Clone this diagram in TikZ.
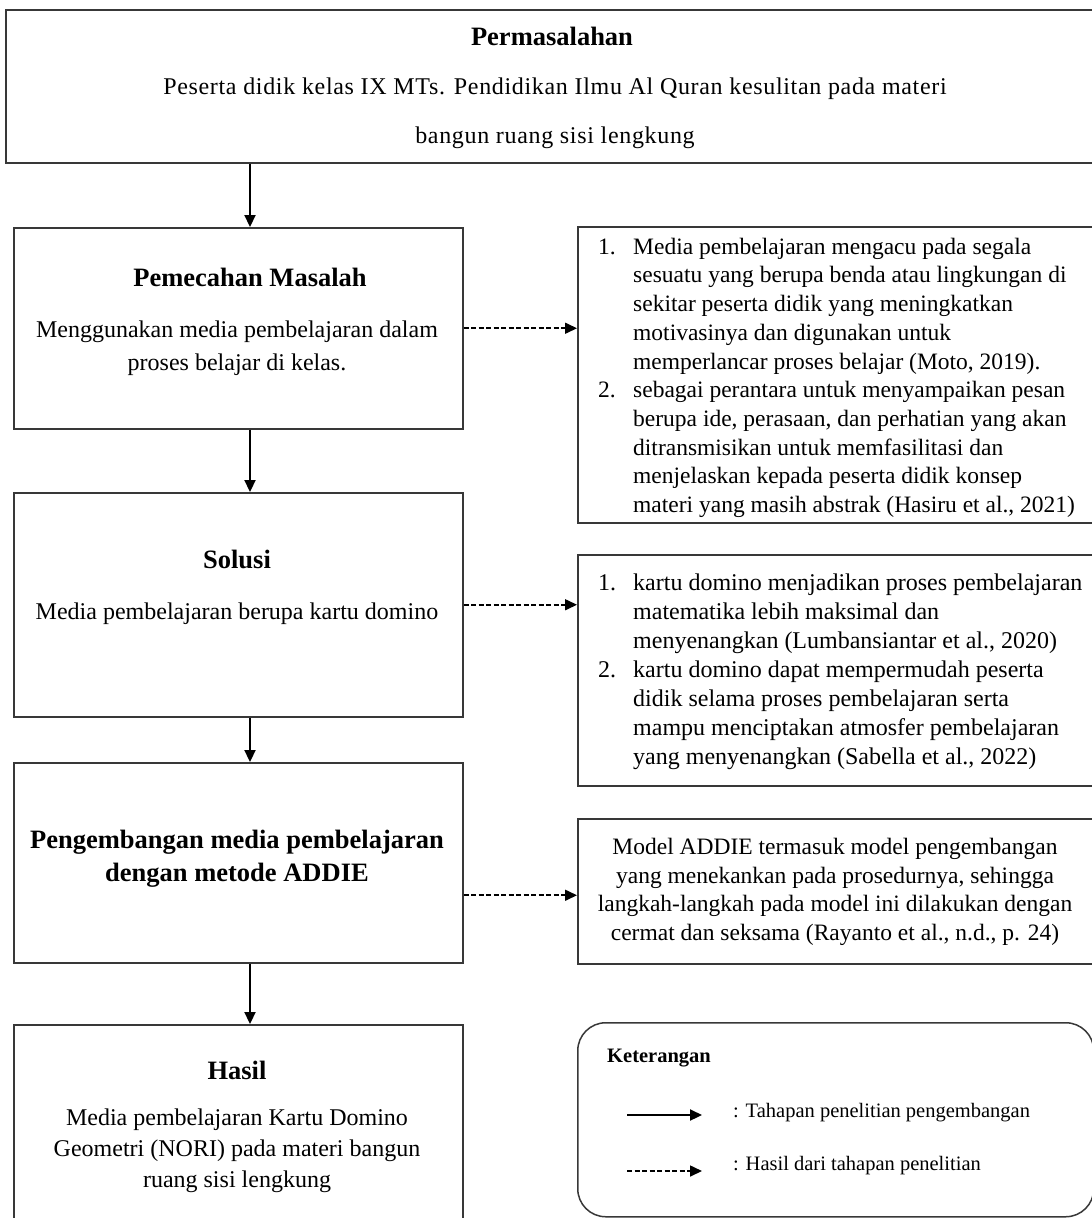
\documentclass[tikz,border=0pt]{standalone}
\usepackage{fontspec}
\setmainfont{Liberation Serif}
\usetikzlibrary{arrows.meta}

\begin{document}
\begin{tikzpicture}[x=1pt,y=-1pt,
  box/.style={draw=black!78, line width=1.5pt, rectangle, anchor=north west, inner sep=0pt},
  flow/.style={line width=2.2pt, -{Triangle[length=12pt,width=11pt]}},
  result/.style={line width=1.6pt, dash pattern=on 5pt off 2.5pt, -{Triangle[length=12pt,width=11pt]}},
  body/.style={font=\fontsize{24}{29}\selectfont, inner sep=0pt},
  head/.style={font=\fontsize{26.5}{33}\selectfont\bfseries, inner sep=0pt, anchor=base},
  line/.style={body, anchor=base},
  wide/.style={font=\fontsize{24}{29}\selectfont\addfontfeature{LetterSpace=2.8}, inner sep=0pt, anchor=base},
  small/.style={font=\fontsize{20.5}{25}\selectfont, inner sep=0pt, anchor=base west},
]
\useasboundingbox (0,0) rectangle (1092,1218);
\clip (0,0) rectangle (1092,1218);

% main flow boxes
\node[box, minimum width=1100pt, minimum height=153pt] (prob) at (5,9) {};
\node[box, minimum width=449pt, minimum height=201pt] (solve) at (13,227) {};
\node[box, minimum width=449pt, minimum height=224pt] (sol) at (13,492) {};
\node[box, minimum width=449pt, minimum height=200pt] (dev) at (13,762) {};
\node[box, minimum width=449pt, minimum height=220pt] (res) at (13,1024) {};

% reference boxes on the right
\node[box, minimum width=530pt, minimum height=296pt] (ref1) at (577,226) {};
\node[box, minimum width=530pt, minimum height=231pt] (ref2) at (577,554) {};
\node[box, minimum width=530pt, minimum height=145pt] (ref3) at (577,818) {};
\node[box, rounded corners=28pt, minimum width=516pt, minimum height=194pt] (legend) at (577,1022) {};

% texts of the flow boxes
\node[head] (probT) at (552,45) {Permasalahan};
\node[wide] (probA) at (555,94) {Peserta didik kelas IX MTs. Pendidikan Ilmu Al Quran kesulitan pada materi};
\node[wide] (probB) at (555,143) {bangun ruang sisi lengkung};

\node[head] (solveT) at (250,286) {Pemecahan Masalah};
\node[line] (solveA) at (237,337) {Menggunakan media pembelajaran dalam};
\node[line] (solveB) at (237,370) {proses belajar di kelas.};

\node[head] (solT) at (237,568) {Solusi};
\node[line] (solA) at (237,619) {Media pembelajaran berupa kartu domino};

\node[head] (devT) at (237,848) {Pengembangan media pembelajaran};
\node[head] (devB) at (237,881) {dengan metode ADDIE};

\node[head] (resT) at (237,1079) {Hasil};
\node[line] (resA) at (237,1125) {Media pembelajaran Kartu Domino};
\node[line] (resB) at (237,1156) {Geometri (NORI) pada materi bangun};
\node[line] (resC) at (237,1187) {ruang sisi lengkung};

% texts of the reference boxes
\node[body, font=\fontsize{23.5}{28.7}\selectfont, align=left, anchor=north west] (ref1txt) at (598,234) {%
\strut\makebox[35pt][l]{1.}Media pembelajaran mengacu pada segala\\
\hspace*{35pt}sesuatu yang berupa benda atau lingkungan di\\
\hspace*{35pt}sekitar peserta didik yang meningkatkan\\
\hspace*{35pt}motivasinya dan digunakan untuk\\
\hspace*{35pt}memperlancar proses belajar (Moto, 2019).\\
\makebox[35pt][l]{2.}sebagai perantara untuk menyampaikan pesan\\
\hspace*{35pt}berupa ide, perasaan, dan perhatian yang akan\\
\hspace*{35pt}ditransmisikan untuk memfasilitasi dan\\
\hspace*{35pt}menjelaskan kepada peserta didik konsep\\
\hspace*{35pt}materi yang masih abstrak (Hasiru et al., 2021)};

\node[body, align=left, anchor=north west] (ref2txt) at (598,570) {%
\strut\makebox[35pt][l]{1.}kartu domino menjadikan proses pembelajaran\\
\hspace*{35pt}matematika lebih maksimal dan\\
\hspace*{35pt}menyenangkan (Lumbansiantar et al., 2020)\\
\makebox[35pt][l]{2.}kartu domino dapat mempermudah peserta\\
\hspace*{35pt}didik selama proses pembelajaran serta\\
\hspace*{35pt}mampu menciptakan atmosfer pembelajaran\\
\hspace*{35pt}yang menyenangkan (Sabella et al., 2022)};

\node[body, font=\fontsize{23.5}{28.7}\selectfont, align=center, anchor=north] (ref3txt) at (835,834) {%
\strut Model ADDIE termasuk model pengembangan\\
yang menekankan pada prosedurnya, sehingga\\
langkah-langkah pada model ini dilakukan dengan\\
cermat dan seksama (Rayanto et al., n.d., p. 24)};

% legend
\node[small, font=\fontsize{20.5}{25}\selectfont\bfseries] (legT) at (607,1062) {Keterangan};
\coordinate (lgA1) at (627,1115);
\coordinate (lgA2) at (702,1115);
\coordinate (lgB1) at (627,1171);
\coordinate (lgB2) at (702,1171);
\node[small] (legA) at (733,1117) {: Tahapan penelitian pengembangan};
\node[small] (legB) at (733,1170) {: Hasil dari tahapan penelitian};
\draw[flow] (lgA1) -- (lgA2);
\draw[result] (lgB1) -- (lgB2);

% connectors
\coordinate (axis) at (250,0);
\draw[flow] (prob.south -| axis) -- (solve.north -| axis);
\draw[flow] (solve.south -| axis) -- (sol.north -| axis);
\draw[flow] (sol.south -| axis) -- (dev.north -| axis);
\draw[flow] (dev.south -| axis) -- (res.north -| axis);

\draw[result] (solve.east) -- (solve.east -| ref1.west);
\draw[result] (sol.east) -- (sol.east -| ref2.west);
\draw[result] ([yshift=-4pt]dev.east |- ref3.west) -- ([yshift=-4pt]ref3.west);
\end{tikzpicture}
\end{document}
